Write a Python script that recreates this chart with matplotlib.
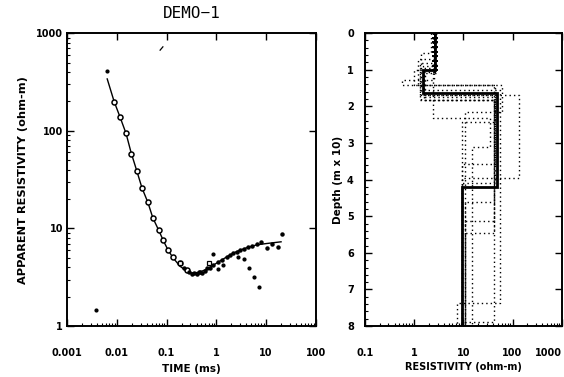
import numpy as np
import matplotlib
matplotlib.use("Agg")
import matplotlib.pyplot as plt
from matplotlib.ticker import LogLocator, FixedLocator, NullFormatter, MultipleLocator

# ---------------- data: left panel (TEM sounding) ----------------
obs_time = [0.0088, 0.0116, 0.0153, 0.0193, 0.0255, 0.032, 0.042, 0.053, 0.070,
            0.085, 0.107, 0.135, 0.186, 0.257]
obs_rho = [196, 138, 94, 58, 38.6, 25.9, 18.6, 12.7, 9.6,
           7.6, 6.0, 5.1, 4.4, 3.74]

late_time = [0.22, 0.28, 0.32, 0.36, 0.40, 0.44, 0.47, 0.52, 0.58, 0.65, 0.75,
             0.86, 1.07, 1.3, 1.6, 1.9, 2.2, 2.6, 3.0, 3.6, 4.3, 5.2, 6.5, 8.0,
             10.3, 13.0, 17.0, 20.7]
late_rho = [3.9, 3.6, 3.45, 3.5, 3.45, 3.6, 3.55, 3.5, 3.7, 3.9, 3.95,
            4.2, 4.5, 4.75, 5.1, 5.35, 5.6, 5.8, 6.0, 6.2, 6.4, 6.6, 6.9, 7.2,
            6.3, 7.0, 6.4, 8.7]

outlier_time = [0.0064, 0.0038, 0.86, 1.07, 1.36, 2.7, 3.6, 4.5, 5.7, 7.2]
outlier_rho = [407, 1.46, 5.5, 3.83, 4.2, 5.1, 4.85, 3.92, 3.17, 2.5]

box_time = [0.186, 0.71]
box_rho = [4.4, 4.4]

slash_time = [0.077]
slash_rho = [700]

fit_time = [0.0064, 0.0088, 0.0116, 0.0153, 0.0193, 0.0255, 0.032, 0.042, 0.053,
            0.070, 0.085, 0.107, 0.135, 0.186, 0.257, 0.32, 0.45, 0.65, 1.0,
            1.6, 2.2, 3.0, 4.3, 6.5, 10.0, 20.0]
fit_rho = [340, 200, 138, 94, 60, 38, 26, 18.5, 12.8,
           9.5, 7.6, 6.0, 5.0, 4.1, 3.65, 3.5, 3.55, 3.85, 4.4,
           5.1, 5.6, 6.0, 6.4, 6.8, 7.0, 7.3]

time_ticks = [0.001, 0.01, 0.1, 1, 10, 100]
time_labels = ["0.001", "0.01", "0.1", "1", "10", "100"]
rho_ticks = [1, 10, 100, 1000]
rho_labels = ["1", "10", "100", "1000"]

# ---------------- data: right panel (layered models) ----------------
best_rho = [2.66, 1.52, 48.6, 9.3]
best_bottoms = [1.01, 1.64, 4.21]

alt_rhos = [
    [2.5, 0.56, 60, 10.7],
    [2.7, 1.5, 138, 9.3],
    [2.4, 1.3, 43, 10.7],
    [2.6, 1.2, 43, 10.7],
    [2.8, 1.7, 55, 7.4],
    [2.2, 1.4, 43, 10.7],
    [2.8, 1.6, 45, 9.5],
    [2.4, 2.4, 35, 15],
    [2.5, 1.0, 45, 9.3],
    [2.7, 1.3, 44, 9.6],
    [2.6, 1.6, 42, 11],
]
alt_bottoms = [
    [1.28, 1.42, 2.16],
    [0.9, 1.69, 3.96],
    [0.82, 1.83, 5.14],
    [0.7, 1.42, 5.46],
    [1.1, 1.55, 7.38],
    [0.55, 1.83, 7.9],
    [1.0, 1.83, 2.43],
    [1.83, 2.32, 3.12],
    [1.0, 1.42, 3.56],
    [0.95, 1.7, 4.1],
    [1.05, 1.75, 4.62],
]
max_depth = 8.0

res_ticks = [0.1, 1, 10, 100, 1000]
res_labels = ["0.1", "1", "10", "100", "1000"]
depth_ticks = [0, 1, 2, 3, 4, 5, 6, 7, 8]


def step_profile(rhos, bottoms, dmax):
    xs, ys = [], []
    top = 0.0
    edges = list(bottoms) + [dmax]
    for r, b in zip(rhos, edges):
        xs += [r, r]
        ys += [top, b]
        top = b
    return xs, ys


plt.rcParams['font.family'] = ['DejaVu Sans']
plt.rcParams['font.weight'] = 'bold'

fig = plt.figure(figsize=(5.64, 3.77), dpi=100)
ax1 = fig.add_axes([0.119, 0.135, 0.441, 0.777])
ax2 = fig.add_axes([0.647, 0.135, 0.349, 0.777])

for ax in (ax1, ax2):
    for s in ax.spines.values():
        s.set_linewidth(1.4)

# ---- left ----
ax1.set_xscale('log')
ax1.set_yscale('log')
ax1.plot(fit_time, fit_rho, color='black', lw=1.0)
ax1.plot(obs_time, obs_rho, 'o', ms=3.6, mfc='white', mec='black', mew=1.1)
ax1.plot(late_time, late_rho, 'o', ms=2.2, color='black')
ax1.plot(outlier_time, outlier_rho, 'o', ms=2.0, color='black')
ax1.plot(box_time, box_rho, 's', ms=3.0, mfc='white', mec='black', mew=0.9)
ax1.plot(slash_time, slash_rho, marker=(2, 0, -40), ms=4, color='black', mew=0.9, ls='none')
ax1.set_xlim(0.001, 100)
ax1.set_ylim(1, 1000)
ax1.xaxis.set_major_locator(FixedLocator(time_ticks))
ax1.set_xticklabels(time_labels)
ax1.yaxis.set_major_locator(FixedLocator(rho_ticks))
ax1.set_yticklabels(rho_labels)
ax1.xaxis.set_minor_locator(LogLocator(base=10, subs=np.arange(2, 10)))
ax1.yaxis.set_minor_locator(LogLocator(base=10, subs=np.arange(2, 10)))
ax1.xaxis.set_minor_formatter(NullFormatter())
ax1.yaxis.set_minor_formatter(NullFormatter())
ax1.tick_params(which='major', direction='in', length=5, width=1.0, top=True, right=True,
                labelsize=7, pad=3)
ax1.tick_params(axis='x', which='major', pad=16)
ax1.tick_params(which='minor', direction='in', length=2, width=0.8, top=False, right=False)
ax1.set_xlabel('TIME (ms)', fontsize=7.5, fontweight='bold', labelpad=4)
ax1.set_ylabel('APPARENT RESISTIVITY (ohm-m)', fontsize=8.2, fontweight='bold', labelpad=6)
ax1.set_title('DEMO\u22121', fontsize=11.5, fontweight='normal', family='DejaVu Sans Mono', pad=11)

# ---- right ----
ax2.set_xscale('log')
for rr, bb in zip(alt_rhos, alt_bottoms):
    xs, ys = step_profile(rr, bb, max_depth)
    ax2.plot(xs, ys, color='black', lw=1.0, ls=(0, (1, 2.2)))
bx, by = step_profile(best_rho, best_bottoms, max_depth)
ax2.plot(bx, by, color='black', lw=2.0, solid_joinstyle='miter')
# plus marks along first layer
plus_depths = np.linspace(0, best_bottoms[0], 9)
ax2.plot([best_rho[0]] * len(plus_depths), plus_depths, '+', ms=5, mew=1.4, color='black')
ax2.set_xlim(0.1, 1000)
ax2.set_ylim(max_depth, 0)
ax2.xaxis.set_major_locator(FixedLocator(res_ticks))
ax2.set_xticklabels(res_labels)
ax2.get_xticklabels()[-1].set_horizontalalignment('right')
ax2.xaxis.set_minor_locator(LogLocator(base=10, subs=np.arange(2, 10)))
ax2.xaxis.set_minor_formatter(NullFormatter())
ax2.yaxis.set_major_locator(FixedLocator(depth_ticks))
ax2.yaxis.set_minor_locator(MultipleLocator(0.2))
ax2.tick_params(which='major', direction='in', length=5, width=1.0, top=True, right=True,
                labelsize=7, pad=8)
ax2.tick_params(axis='x', which='major', pad=16)
ax2.tick_params(which='minor', direction='in', length=2, width=0.8, top=False, right=False)
ax2.set_xlabel('RESISTIVITY (ohm-m)', fontsize=7, fontweight='bold', labelpad=3)
ax2.set_ylabel('Depth (m x 10)', fontsize=7.5, fontweight='bold', labelpad=3)

fig.savefig('out.png', dpi=100)
